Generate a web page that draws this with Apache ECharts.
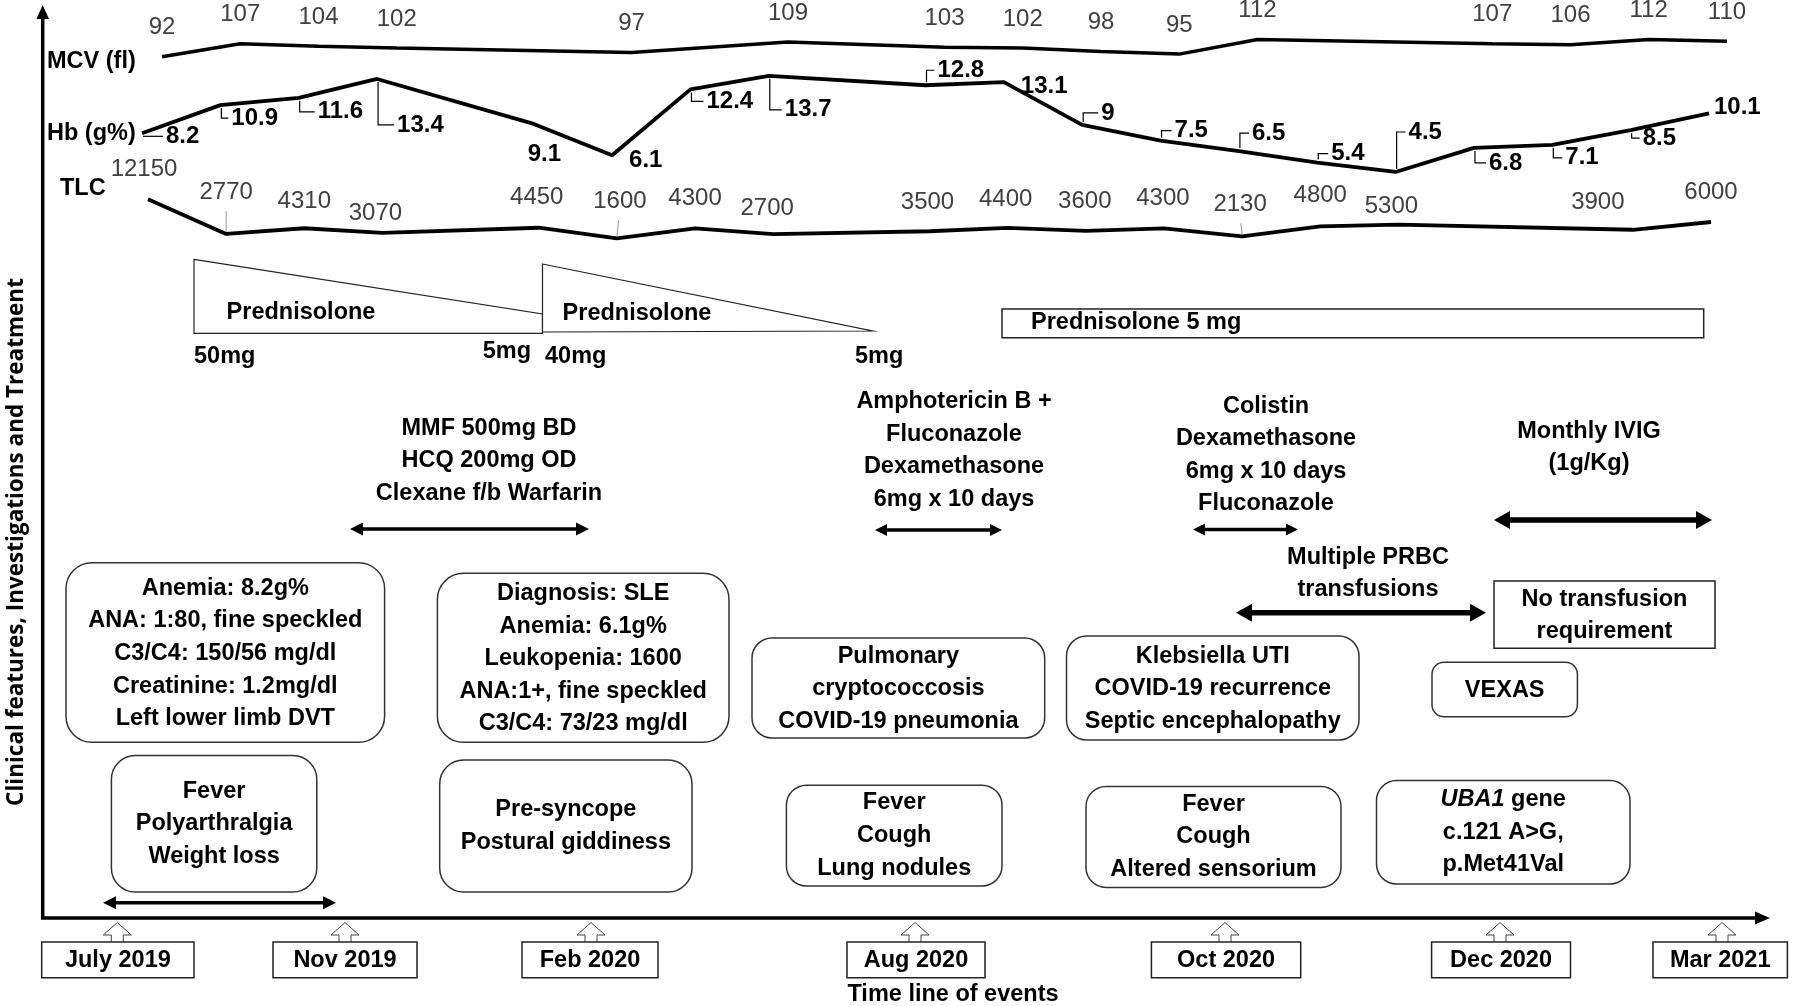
<!DOCTYPE html>
<html>
<head>
<meta charset="utf-8">
<title>Time line of events</title>
<script src="https://cdn.jsdelivr.net/npm/echarts@6/dist/echarts.min.js"></script>
<style>
  html, body { margin: 0; padding: 0; background: #fff; }
  #chart { width: 1800px; height: 1006px; }
</style>
</head>
<body>
<div id="chart"></div>
<script>
// visits (sampling points) shared by the three lab lines
const visits = ['V1', 'V2', 'V3', 'V4', 'V5', 'V6', 'V7', 'V8', 'V9', 'V10', 'V11',
  'V12', 'V13', 'V14', 'V15', 'V16', 'V17', 'V18', 'V19', 'V20', 'V21'];

// lab values, null = not measured at that visit
const mcv = [92, 107, 104, 102, null, null, 97, null, 109, null, 103, 102, 98, 95, 112, null, null, 107, 106, 112, 110];
const hb = [8.2, 10.9, 11.6, 13.4, null, 9.1, 6.1, 12.4, 13.7, null, 12.8, 13.1, 9, 7.5, 6.5, 5.4, 4.5, 6.8, 7.1, 8.5, 10.1];
const tlc = [12150, 2770, 4310, 3070, null, 4450, 1600, 4300, 2700, null, 3500, 4400, 3600, 4300, 2130, 4800, 5300, null, null, 3900, 6000];

// texts
const seriesNames = ['MCV (fl)', 'Hb (g%)', 'TLC'];
const dateLabels = ['July 2019', 'Nov 2019', 'Feb 2020', 'Aug 2020', 'Oct 2020', 'Dec 2020', 'Mar 2021'];
const steroidTexts = ['Prednisolone', 'Prednisolone', 'Prednisolone 5 mg'];
const doseTexts = ['50mg', '5mg', '40mg', '5mg'];
const treatmentTexts = [
  'MMF 500mg BD\nHCQ 200mg OD\nClexane f/b Warfarin',
  'Amphotericin B +\nFluconazole\nDexamethasone\n6mg x 10 days',
  'Colistin\nDexamethasone\n6mg x 10 days\nFluconazole',
  'Monthly IVIG\n(1g/Kg)',
  'Multiple PRBC\ntransfusions'
];
const findingBoxes = [
  'Anemia: 8.2g%\nANA: 1:80, fine speckled\nC3/C4: 150/56 mg/dl\nCreatinine: 1.2mg/dl\nLeft lower limb DVT',
  'Diagnosis: SLE\nAnemia: 6.1g%\nLeukopenia: 1600\nANA:1+, fine speckled\nC3/C4: 73/23 mg/dl',
  'Pulmonary\ncryptococcosis\nCOVID-19 pneumonia',
  'Klebsiella UTI\nCOVID-19 recurrence\nSeptic encephalopathy',
  'VEXAS'
];
const symptomBoxes = [
  'Fever\nPolyarthralgia\nWeight loss',
  'Pre-syncope\nPostural giddiness',
  'Fever\nCough\nLung nodules',
  'Fever\nCough\nAltered sensorium',
  '{i|UBA1} gene\nc.121 A>G,\np.Met41Val'
];
const noTransfusionText = 'No transfusion\nrequirement';
const yTitle = 'Clinical features, Investigations and Treatment';
const xTitle = 'Time line of events';

// ---------- layout (pixels) ----------
const FONT = '"Liberation Sans", Arial, sans-serif';
const BOLD = 'bold 23.5px ' + FONT;

// label offsets [dx, dy, leader]
const hbLabelPos = [[24, 3, 1], [11, 13, 1], [19, 14, 1], [20, 46, 1], null, [-6, 30, 0], [17, 5, 0],
  [16, 12, 1], [16, 34, 1], null, [12, -15, 1], [17, 4, 0], [19, -12, 1], [14, -10, 1], [13, -18, 1],
  [14, -9, 1], [13, -40, 1], [15, 15, 1], [13, 13, 1], [12, 8, 1], [5, -6, 0]];
const tlcLabelPos = [[-4, -30, 0], [0, -42, 1], [0, -27, 0], [-7, -19, 0], null, [-2, -30, 0], [3, -37, 1],
  [0, -30, 0], [-6, -26, 0], null, [-2, -29, 0], [-2, -29, 0], [-1, -30, 0], [-1, -30, 0], [-2, -32, 1],
  [0, -31, 0], [-7, -18, 0], null, null, [-35, -27, 0], [0, -30, 0]];

const datePos = [[41.7, 194, 117.3], [273, 417, 345], [522, 658, 591], [847, 985, 915],
  [1151.4, 1300.7, 1225], [1431.6, 1570.5, 1500], [1653, 1787.4, 1722]];
const findingPos = [[66, 562.7, 384.6, 742.3, 26], [437.4, 573.3, 729, 742.3, 26], [752, 638, 1044.7, 738, 20],
  [1066.5, 636, 1359, 740, 20], [1432, 662.3, 1577.4, 716.7, 12]];
const symptomPos = [[111.4, 755.4, 316.8, 892, 24], [439.7, 760, 692, 892, 24], [786.4, 785.2, 1002, 886, 20],
  [1086, 786.4, 1341, 887.4, 20], [1376.5, 780.6, 1630, 884, 20]];
const treatmentPos = [[489, 461], [954, 450.5], [1266, 455], [1589, 447.5], [1368, 573.5]];

function pts(values) {
  return values.map((v, i) => [i, v]).filter(d => d[1] != null);
}

function txt(x, y, text, font, align, fill, extra) {
  return {
    type: 'text', z: 100,
    style: Object.assign({
      text: text, x: x, y: y, font: font, fill: fill || '#000',
      align: align || 'center', textAlign: align || 'center',
      verticalAlign: 'middle', textVerticalAlign: 'middle', lineHeight: 32.6
    }, extra || {})
  };
}

function dblArrow(x1, x2, y, lw, hl, hw) {
  return [
    { type: 'line', z: 100, shape: { x1: x1 + hl * 0.8, y1: y, x2: x2 - hl * 0.8, y2: y }, style: { stroke: '#000', lineWidth: lw } },
    { type: 'polygon', z: 100, shape: { points: [[x1, y], [x1 + hl, y - hw], [x1 + hl, y + hw]] }, style: { fill: '#000' } },
    { type: 'polygon', z: 100, shape: { points: [[x2, y], [x2 - hl, y - hw], [x2 - hl, y + hw]] }, style: { fill: '#000' } }
  ];
}

function box(p, r, stroke) {
  return {
    type: 'rect', z: 99,
    shape: { x: p[0], y: p[1], width: p[2] - p[0], height: p[3] - p[1], r: r },
    style: { fill: '#fff', stroke: stroke || '#333', lineWidth: 1.5 }
  };
}

const g = [];
// axes with arrow heads
g.push({ type: 'line', z: 100, shape: { x1: 42.7, y1: 919, x2: 42.7, y2: 16 }, style: { stroke: '#000', lineWidth: 3.5 } });
g.push({ type: 'polygon', z: 100, shape: { points: [[42.7, 5], [49, 19], [36.4, 19]] }, style: { fill: '#000' } });
g.push({ type: 'line', z: 100, shape: { x1: 41, y1: 918, x2: 1758, y2: 918 }, style: { stroke: '#000', lineWidth: 3.5 } });
g.push({ type: 'polygon', z: 100, shape: { points: [[1770, 918], [1755, 911.5], [1755, 924.5]] }, style: { fill: '#000' } });

// series names
g.push(txt(47, 61.5, seriesNames[0], BOLD, 'left'));
g.push(txt(47, 134, seriesNames[1], BOLD, 'left'));
g.push(txt(60, 189, seriesNames[2], BOLD, 'left'));

// steroid tapers
g.push({ type: 'polygon', z: 99, shape: { points: [[194, 259.3], [542.5, 314], [542.5, 333.3], [194, 333.3]] },
  style: { fill: '#fff', stroke: '#222', lineWidth: 1.2 } });
g.push({ type: 'polygon', z: 99, shape: { points: [[542.5, 264], [872.6, 331], [542.5, 332]] },
  style: { fill: '#fff', stroke: '#222', lineWidth: 1.2 } });
g.push({ type: 'rect', z: 99, shape: { x: 1002, y: 309, width: 701.7, height: 28.7 },
  style: { fill: '#fff', stroke: '#222', lineWidth: 1.5 } });
g.push(txt(301, 313, steroidTexts[0], BOLD));
g.push(txt(637, 314, steroidTexts[1], BOLD));
g.push(txt(1031, 322.5, steroidTexts[2], BOLD, 'left'));
g.push(txt(194, 356.7, doseTexts[0], BOLD, 'left'));
g.push(txt(531, 351.7, doseTexts[1], BOLD, 'right'));
g.push(txt(545, 356.7, doseTexts[2], BOLD, 'left'));
g.push(txt(855, 356.7, doseTexts[3], BOLD, 'left'));

// treatments and their durations
treatmentTexts.forEach((t, i) => {
  g.push(txt(treatmentPos[i][0], treatmentPos[i][1], t, BOLD));
});
g.push(...dblArrow(350, 589, 529, 3.5, 13, 6.5));
g.push(...dblArrow(875, 1002, 530, 3.5, 12, 6));
g.push(...dblArrow(1193, 1298, 529.5, 3.5, 12, 6));
g.push(...dblArrow(1494, 1712, 520, 5.5, 16, 9));
g.push(...dblArrow(1236, 1486, 612.7, 5.5, 16, 9));
g.push(...dblArrow(103, 336, 902.7, 3.5, 13, 6.5));

// no transfusion box
g.push(box([1494, 581, 1715, 648.3], 0, '#222'));
g.push(txt(1604.5, 615.5, noTransfusionText, BOLD));

// findings and symptoms
findingBoxes.forEach((t, i) => {
  const p = findingPos[i];
  g.push(box(p, p[4]));
  g.push(txt((p[0] + p[2]) / 2, (p[1] + p[3]) / 2 + 1, t, BOLD));
});
symptomBoxes.forEach((t, i) => {
  const p = symptomPos[i];
  g.push(box(p, p[4]));
  g.push(txt((p[0] + p[2]) / 2, (p[1] + p[3]) / 2, t, BOLD, 'center', '#000', {
    rich: { i: { font: 'italic bold 23.5px ' + FONT, fill: '#000', lineHeight: 32.6 } }
  }));
});

// date callouts on the time axis
dateLabels.forEach((d, i) => {
  const [b1, b2, ax] = datePos[i];
  g.push({ type: 'polygon', z: 100,
    shape: { points: [[ax, 922.5], [ax + 14, 935], [ax + 6, 935], [ax + 6, 942.5], [ax - 6, 942.5], [ax - 6, 935], [ax - 14, 935]] },
    style: { fill: '#fff', stroke: '#444', lineWidth: 1 } });
  g.push({ type: 'rect', z: 100, shape: { x: b1, y: 942, width: b2 - b1, height: 35.7 },
    style: { fill: '#fff', stroke: '#222', lineWidth: 1.5 } });
  g.push(txt((b1 + b2) / 2, 960.5, d, BOLD));
});

// axis titles
g.push(txt(953, 995, xTitle, BOLD));
g.push({ type: 'text', z: 100, x: 17, y: 542, rotation: Math.PI / 2,
  style: { text: yTitle, font: 'bold 22.5px "Open Sans", sans-serif', fill: '#000',
    align: 'center', textAlign: 'center', verticalAlign: 'middle', textVerticalAlign: 'middle' } });

// number labels drawn from the data through the same axes as the lines
function labelSeries(axis, values, layout, font, color, leaderColor) {
  return {
    type: 'custom', xAxisIndex: axis, yAxisIndex: axis, z: 5, silent: true,
    data: pts(values),
    renderItem: function (params, api) {
      const i = api.value(0), v = api.value(1);
      const p = api.coord([i, v]);
      const lp = layout ? layout[i] : [0, -29, 0];
      const kids = [];
      if (layout === hbLabelPos) {
        if (lp[2]) {
          kids.push({ type: 'polyline',
            shape: { points: [[p[0] + 1, p[1] + (lp[1] > 0 ? 3 : -3)], [p[0] + 1, p[1] + lp[1]], [p[0] + lp[0] - 3, p[1] + lp[1]]] },
            style: { stroke: leaderColor, lineWidth: 1.2, fill: 'none' } });
        }
        kids.push({ type: 'text', style: { text: String(v), x: p[0] + lp[0], y: p[1] + lp[1], font: font, fill: color,
          align: 'left', textAlign: 'left', verticalAlign: 'middle', textVerticalAlign: 'middle' } });
      } else {
        if (lp[2]) {
          kids.push({ type: 'line', shape: { x1: p[0] + lp[0] * 0.6, y1: p[1] + lp[1] + 19, x2: p[0], y2: p[1] - 2 },
            style: { stroke: leaderColor, lineWidth: 1 } });
        }
        kids.push({ type: 'text', style: { text: String(v), x: p[0] + lp[0], y: p[1] + lp[1], font: font, fill: color,
          align: 'center', textAlign: 'center', verticalAlign: 'middle', textVerticalAlign: 'middle' } });
      }
      return { type: 'group', children: kids };
    }
  };
}

function labLine(axis, values, width) {
  return {
    type: 'line', xAxisIndex: axis, yAxisIndex: axis, data: values, connectNulls: true,
    symbol: 'none', silent: true, lineStyle: { color: '#000', width: width }
  };
}

const chart = echarts.init(document.getElementById('chart'));
chart.setOption({
  animation: false,
  backgroundColor: '#fff',
  grid: [
    { left: 162, right: 73, top: 36.9, height: 21.5 },
    { left: 142, right: 91, top: 72.7, height: 104.5 },
    { left: 148, right: 89, top: 192.4, height: 51.8 }
  ],
  xAxis: [0, 1, 2].map(i => ({ type: 'category', gridIndex: i, data: visits, boundaryGap: false, show: false })),
  yAxis: [
    { type: 'value', gridIndex: 0, min: 90, max: 115, show: false },
    { type: 'value', gridIndex: 1, min: 4, max: 14, show: false },
    { type: 'value', gridIndex: 2, min: 0, max: 14000, show: false }
  ],
  series: [
    labLine(0, mcv, 3.5),
    labLine(1, hb, 3.8),
    labLine(2, tlc, 3.8),
    labelSeries(0, mcv, null, '24px ' + FONT, '#404040', '#999'),
    labelSeries(1, hb, hbLabelPos, 'bold 24px ' + FONT, '#000', '#000'),
    labelSeries(2, tlc, tlcLabelPos, '24px ' + FONT, '#404040', '#999')
  ],
  graphic: { elements: g }
});
</script>
</body>
</html>
